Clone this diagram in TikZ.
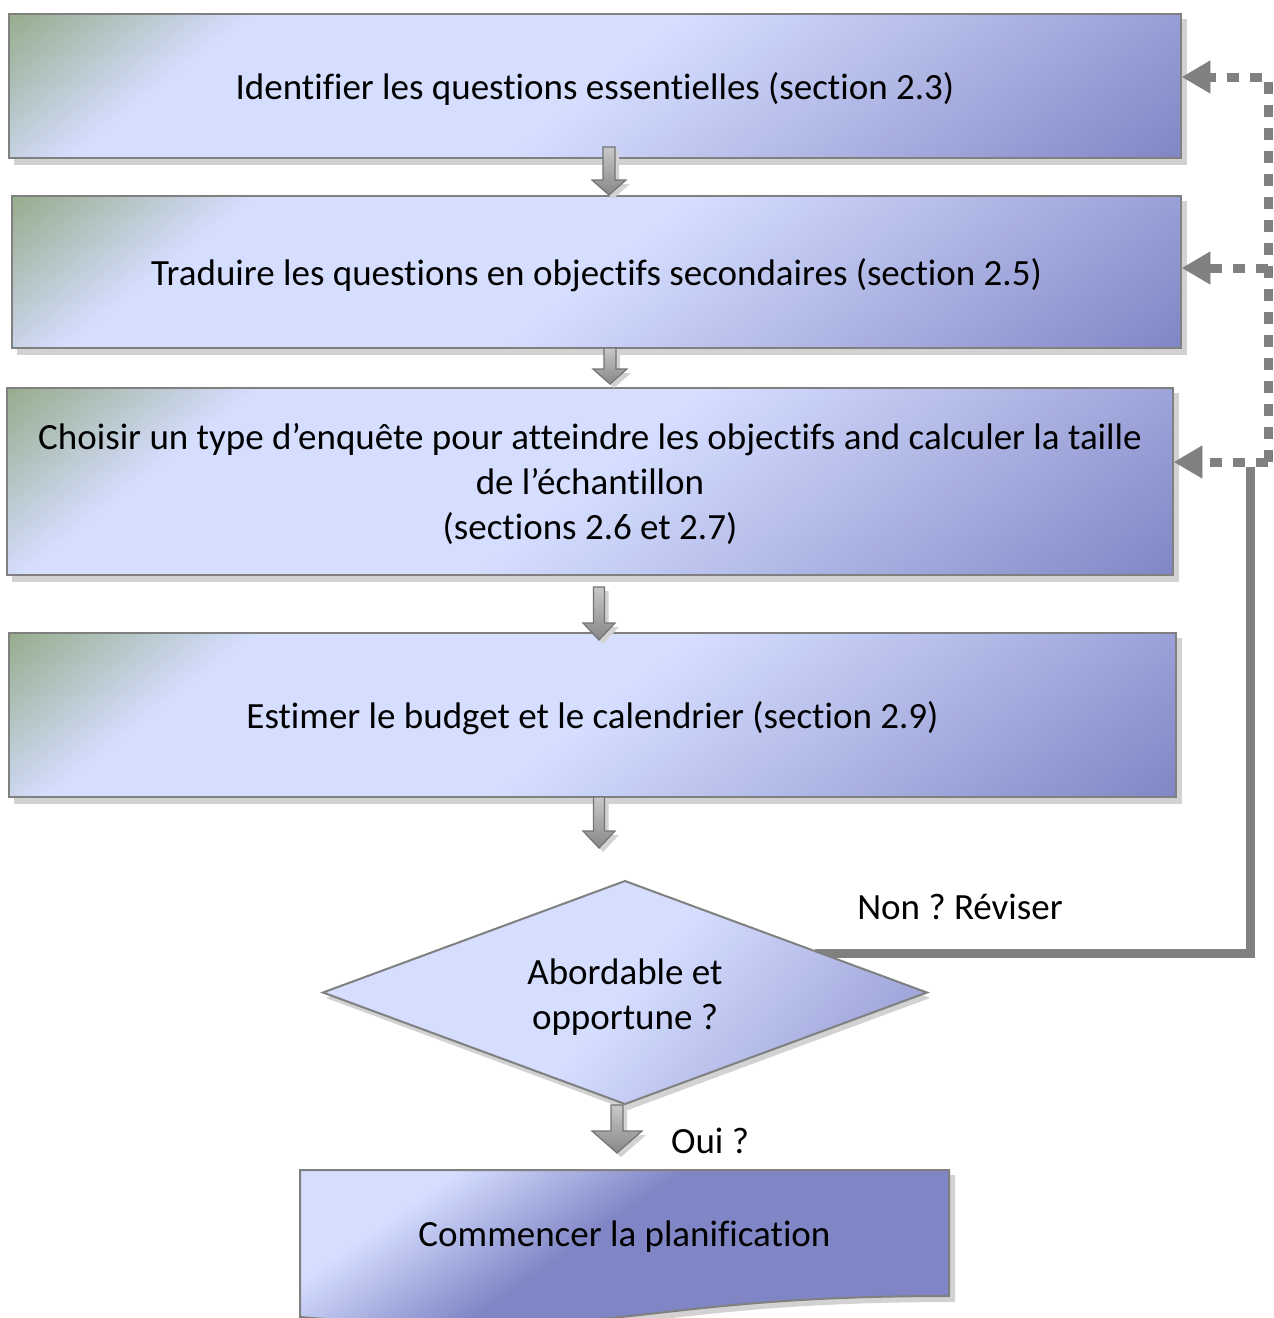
\documentclass[tikz,border=0pt]{standalone}
\usepackage{fontspec}
\setmainfont{Carlito}[Ligatures=NoCommon]
\usetikzlibrary{arrows.meta}
\frenchspacing
\definecolor{cg}{RGB}{150,172,140}
\definecolor{cl}{RGB}{213,222,255}
\definecolor{cd}{RGB}{128,134,197}
\definecolor{cdm}{RGB}{140,146,205}
\definecolor{lineg}{RGB}{128,128,128}
\definecolor{shadowc}{RGB}{210,210,210}
\definecolor{arrb}{RGB}{115,115,115}
\definecolor{arrt}{RGB}{200,200,200}
\definecolor{arrd}{RGB}{135,135,135}
\pgfdeclarehorizontalshading{boxsh}{100bp}{color(0bp)=(cg); color(25bp)=(cg); color(34bp)=(cl); color(50bp)=(cl); color(75bp)=(cd); color(100bp)=(cd)}
\pgfdeclarehorizontalshading{diash}{100bp}{color(0bp)=(cl); color(25bp)=(cl); color(50bp)=(cl); color(75bp)=(cdm); color(100bp)=(cdm)}
\pgfdeclarehorizontalshading{docsh}{100bp}{color(0bp)=(cl); color(25bp)=(cl); color(34bp)=(cl); color(47bp)=(cd); color(100bp)=(cd)}
\newcommand{\gbox}[6]{%
  \fill[shadowc] ({#2-#4/2+5},{#3-#5/2+5}) rectangle ({#2+#4/2+6},{#3+#5/2+7});
  \begin{scope}
    \clip ({#2-#4/2},{#3-#5/2}) rectangle ({#2+#4/2},{#3+#5/2});
    \begin{scope}[transform canvas={rotate around={-52:(#2,#3)}}]
      \shade[shading=boxsh] ({#2-0.6157*#4/2-0.788*#5/2},{#3-#4}) rectangle ({#2+0.6157*#4/2+0.788*#5/2},{#3+#4});
    \end{scope}
  \end{scope}
  \node[boxnode, minimum width=#4pt, minimum height=#5pt] (#1) at (#2,#3) {};
  \node[txt] (#1t) at (#2,#3) {#6};
}
\newcommand{\blkarrow}[6]{%
  \fill[shadowc] ({#1-#4/2+4},{#2+4}) -- ({#1+#4/2+4},{#2+4}) -- ({#1+#4/2+4},{#3-#6+4}) -- ({#1+#5/2+4},{#3-#6+4}) -- ({#1+4},{#3+4}) -- ({#1-#5/2+4},{#3-#6+4}) -- ({#1-#4/2+4},{#3-#6+4}) -- cycle;
  \shade[top color=arrt, bottom color=arrd, draw=arrb, line width=1.2pt, line join=miter]
    ({#1-#4/2},{#2}) -- ({#1+#4/2},{#2}) -- ({#1+#4/2},{#3-#6}) -- ({#1+#5/2},{#3-#6}) -- ({#1},{#3}) -- ({#1-#5/2},{#3-#6}) -- ({#1-#4/2},{#3-#6}) -- cycle;
}
\begin{document}
\begin{tikzpicture}[x=1pt,y=-1pt,
  txt/.style={font=\fontsize{37pt}{45pt}\selectfont, text=black, align=center, inner sep=0pt, yshift=-3pt},
  boxnode/.style={draw=lineg, line width=2.5pt, rectangle, inner sep=0pt},
  dotl/.style={draw=lineg, line width=9pt, dash pattern=on 12pt off 11pt, line cap=butt,
     -{Triangle[length=28pt, width=33pt, line width=0.1pt]}},
  solidl/.style={draw=lineg, line width=9pt, line cap=butt}]
\useasboundingbox (0,0) rectangle (1274,1318);

% boxes
\gbox{b1}{595}{86}{1172}{144}{Identifier les questions essentielles (section 2.3)}
\gbox{b2}{596.5}{272}{1169}{152}{Traduire les questions en objectifs secondaires (section 2.5)}
\gbox{b3}{590}{481.5}{1166}{187}{Choisir un type d’enquête pour atteindre les objectifs and calculer la taille\\de l’échantillon\\(sections 2.6 et 2.7)}
\gbox{b4}{592.5}{715}{1167}{164}{Estimer le budget et le calendrier (section 2.9)}

% block arrows
\blkarrow{609}{147}{195}{12}{34}{15}
\blkarrow{610}{348}{384}{12}{34}{15}
\blkarrow{599}{587}{640}{11}{32}{17}
\blkarrow{599}{797}{848}{11}{32}{17}

% feedback connectors
\coordinate (nstart) at (815,953);
\coordinate (rc) at (1250,953);
\coordinate (rt) at (1250,467);
\draw[solidl] (nstart) -- (rc) -- (rt);

\coordinate (vb) at (1268,462);
\coordinate (vm) at (1268,268);
\coordinate (vt) at (1268,77);
\draw[dotl] (vb) -- (vt) -- (b1.east |- vt);
\draw[dotl] (vm) -- (b2.east |- vm);
\draw[dotl] (vb) -- (b3.east |- vb);

% diamond
\fill[shadowc] (326,998) -- (628,886) -- (930,998) -- (628,1110) -- cycle;
\begin{scope}
  \clip (323,992.5) -- (625,881) -- (927,992.5) -- (625,1104) -- cycle;
  \begin{scope}[transform canvas={rotate around={-40:(625,992.5)}}]
    \shade[shading=diash] (322,292.5) rectangle (928,1692.5);
  \end{scope}
\end{scope}
\draw[lineg, line width=2pt, line join=miter] (323,992.5) -- (625,881) -- (927,992.5) -- (625,1104) -- cycle;
\node[txt] (dia) at (625,994) {Abordable et\\opportune ?};

\node[txt] (non) at (960,904) {Non ? Réviser};

% arrow to document
\blkarrow{617}{1105}{1153}{12}{50}{22}
\node[txt] (oui) at (710,1138) {Oui ?};

% document shape
\fill[shadowc] (305,1175) -- (955,1175) -- (955,1302) .. controls (629.5,1302) and (629.5,1350) .. (305,1323) -- cycle;
\begin{scope}
  \clip (300,1170) -- (949,1170) -- (949,1296) .. controls (624.5,1296) and (624.5,1344) .. (300,1317) -- cycle;
  \begin{scope}[transform canvas={rotate around={-55:(624.5,1248.5)}}]
    \shade[shading=docsh] (374.5,600) rectangle (874.5,1900);
  \end{scope}
\end{scope}
\draw[lineg, line width=2pt, line join=miter] (300,1170) -- (949,1170) -- (949,1296) .. controls (624.5,1296) and (624.5,1344) .. (300,1317) -- cycle;
\node[txt] (doc) at (624.5,1234) {Commencer la planification};
\end{tikzpicture}
\end{document}
